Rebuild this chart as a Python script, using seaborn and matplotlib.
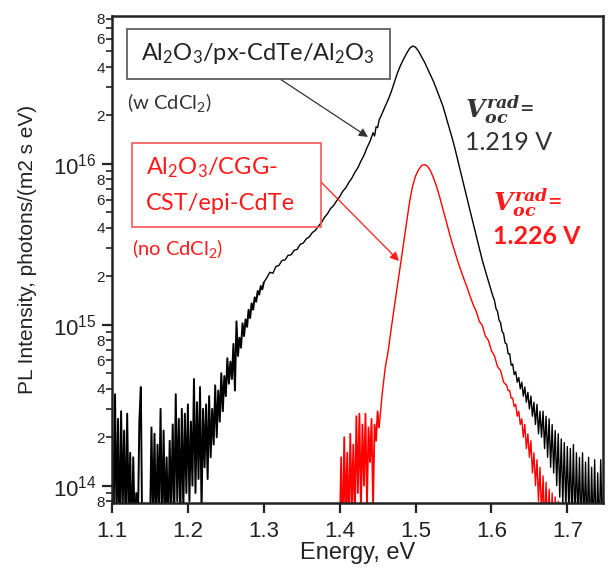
import numpy as np
import pandas as pd
import matplotlib
matplotlib.use("Agg")
import matplotlib.pyplot as plt
from matplotlib.patches import Rectangle
from matplotlib.ticker import LogLocator, FuncFormatter, FormatStrFormatter
import seaborn as sns

sns.set_style("ticks")
plt.rcParams["font.family"] = ["Liberation Sans", "DejaVu Sans"]
plt.rcParams["mathtext.fontset"] = "custom"
plt.rcParams["mathtext.it"] = "DejaVu Serif:italic:bold"
plt.rcParams["mathtext.rm"] = "Liberation Sans"

ANNOT_FONT = ["Lato", "DejaVu Sans"]
RED = "#ff1a1a"

# PL spectra, intensity in units of 1e14 photons/(m2 s eV)
black_energy = [
    1.100, 1.102, 1.104, 1.106, 1.108, 1.110, 1.112, 1.114, 1.116, 1.118,
    1.120, 1.122, 1.124, 1.126, 1.128, 1.130, 1.132, 1.134, 1.136, 1.138,
    1.140, 1.142, 1.144, 1.146, 1.148, 1.150, 1.152, 1.154, 1.156, 1.158,
    1.160, 1.162, 1.164, 1.166, 1.168, 1.170, 1.172, 1.174, 1.176, 1.178,
    1.180, 1.182, 1.184, 1.186, 1.188, 1.190, 1.192, 1.194, 1.196, 1.198,
    1.200, 1.202, 1.204, 1.206, 1.208, 1.210, 1.212, 1.214, 1.216, 1.218,
    1.220,
    1.222, 1.224, 1.226, 1.228, 1.230, 1.232, 1.234, 1.236, 1.238, 1.240,
    1.242, 1.244, 1.246, 1.248, 1.250, 1.252, 1.254, 1.256, 1.258, 1.260,
    1.262, 1.264, 1.266, 1.268, 1.270, 1.272, 1.274, 1.276, 1.278, 1.280,
    1.282, 1.284, 1.286, 1.288, 1.290, 1.292, 1.294, 1.296, 1.298, 1.300,
    1.304, 1.308, 1.312, 1.316, 1.320, 1.324, 1.328, 1.332, 1.336, 1.340,
    1.344, 1.348, 1.352, 1.356, 1.360, 1.364, 1.368, 1.372, 1.376, 1.380,
    1.384, 1.388, 1.392, 1.396, 1.400, 1.404, 1.408, 1.412, 1.416, 1.420,
    1.424, 1.428, 1.432, 1.436, 1.440, 1.444, 1.446, 1.448, 1.450,
    1.452, 1.456, 1.460, 1.464, 1.468, 1.472, 1.476, 1.480, 1.484, 1.488,
    1.492, 1.496, 1.500, 1.504, 1.508, 1.512, 1.516, 1.520, 1.524, 1.528,
    1.532, 1.536, 1.540, 1.544, 1.548, 1.552, 1.556, 1.560, 1.564, 1.568,
    1.572, 1.576, 1.580, 1.584, 1.588, 1.592, 1.596,
    1.600, 1.602, 1.604, 1.606, 1.608, 1.610, 1.612, 1.614, 1.616, 1.618,
    1.620, 1.622, 1.624, 1.626, 1.628, 1.630, 1.632, 1.634, 1.636, 1.638,
    1.640, 1.642, 1.644, 1.646, 1.648, 1.650, 1.652, 1.654, 1.656, 1.658,
    1.660, 1.662, 1.664, 1.666, 1.668, 1.670, 1.672, 1.674, 1.676, 1.678,
    1.680, 1.682, 1.684, 1.686, 1.688, 1.690, 1.692, 1.694, 1.696, 1.698,
    1.700, 1.702, 1.704, 1.706, 1.708, 1.710, 1.712, 1.714, 1.716, 1.718,
    1.720, 1.722, 1.724, 1.726, 1.728, 1.730, 1.732, 1.734, 1.736, 1.738,
    1.740, 1.742, 1.744, 1.746, 1.748,
]
black_intensity = [
    2.4, 0.5, 3.7, 0.6, 2.6, 0.4, 2.9, 0.7, 2.2, 0.5,
    2.8, 0.6, 1.6, 0.4, 1.5, 0.5, 0.9, 0.5, 2.5, 4.1,
    0.4, 0.5, 0.3, 0.45, 0.35, 0.5, 2.3, 0.6, 2.1, 0.5,
    1.8, 0.7, 3.0, 0.5, 2.2, 0.6, 1.5, 0.5, 1.9, 0.7,
    2.4, 0.6, 3.7, 0.8, 2.6, 0.6, 3.0, 0.7, 2.8, 0.9,
    3.2, 0.8, 2.5, 1.0, 4.6, 0.9, 3.3, 1.1, 4.1, 0.7,
    3.0,
    1.3, 3.2, 1.1, 3.6, 1.5, 3.0, 1.8, 4.2, 2.0, 3.9,
    2.5, 5.0, 2.9, 4.8, 3.6, 6.2, 4.3, 5.9, 4.6, 7.6,
    3.9, 10.5, 6.4, 8.3, 7.2, 10.2, 8.5, 10.8, 9.7, 12.4,
    11.0, 13.6, 12.4, 14.8, 13.9, 16.2, 15.4, 17.4, 16.6, 18.3,
    19.6, 21.2, 20.9, 23.0, 23.4, 25.1, 25.3, 27.0, 27.2, 29.0,
    29.4, 31.6, 32.2, 34.2, 35.2, 37.4, 38.6, 41.0, 43.2, 46.5,
    49.0, 52.8, 55.0, 59.0, 62.5, 67.5, 71.0, 76.5, 81.5, 88.5,
    94.5, 104, 113, 126, 138, 156, 149, 170, 168,
    187, 206, 228, 251, 281, 321, 366, 407, 446, 484,
    521, 540, 531, 501, 462, 427, 389, 355, 322, 288,
    257, 229, 197, 170, 146, 124, 104, 86.7, 72.4, 60.7,
    50.8, 42.7, 35.7, 29.9, 25.1, 21.6, 18.7,
    16.2, 15.0, 14.2, 12.6, 12.1, 10.7, 10.3, 9.1, 8.8, 7.7,
    7.6, 6.6, 6.6, 5.6, 5.7, 4.9, 5.1, 4.4, 4.7, 4.0,
    4.4, 3.6, 4.1, 3.3, 3.8, 3.0, 3.6, 2.7, 3.3, 2.4,
    3.2, 2.1, 2.9, 2.0, 2.9, 1.7, 2.7, 1.5, 2.6, 1.3,
    2.4, 1.2, 2.2, 1.0, 2.1, 0.85, 1.95, 0.75, 1.85, 0.7,
    1.75, 0.65, 1.7, 0.6, 1.8, 0.55, 1.6, 0.6, 1.5, 0.5,
    1.6, 0.55, 1.4, 0.5, 1.5, 0.45, 1.3, 0.5, 1.45, 0.45,
    1.2, 0.5, 1.45, 0.5, 1.1,
]

red_energy = [
    1.400, 1.402, 1.404, 1.406, 1.408, 1.410, 1.412, 1.414, 1.416, 1.418,
    1.420, 1.422, 1.424, 1.426, 1.428, 1.430, 1.432, 1.434, 1.436, 1.438,
    1.440, 1.442, 1.444, 1.446, 1.448, 1.450, 1.452,
    1.456, 1.460, 1.464, 1.468, 1.472, 1.476, 1.480, 1.484, 1.488, 1.492,
    1.496, 1.500, 1.504, 1.508, 1.512, 1.516, 1.520, 1.524,
    1.528, 1.532, 1.536, 1.540, 1.544, 1.548, 1.552, 1.556, 1.560, 1.564,
    1.568, 1.572, 1.576, 1.580, 1.584, 1.588, 1.592, 1.596, 1.600, 1.604,
    1.608, 1.612, 1.616,
    1.620, 1.622, 1.624, 1.626, 1.628, 1.630, 1.632, 1.634, 1.636, 1.638,
    1.640, 1.642, 1.644, 1.646, 1.648, 1.650, 1.652, 1.654, 1.656, 1.658,
    1.660, 1.662, 1.664, 1.666, 1.668, 1.670, 1.672, 1.674, 1.676, 1.678,
    1.680, 1.682, 1.684, 1.686, 1.688, 1.690, 1.692, 1.694, 1.696, 1.698,
    1.700,
]
red_intensity = [
    0.5, 1.5, 0.4, 2.0, 0.6, 1.6, 0.5, 2.1, 0.7, 1.8,
    0.6, 2.7, 0.9, 2.8, 0.7, 2.4, 1.0, 2.8, 0.75, 2.3,
    1.4, 2.6, 0.75, 2.4, 1.9, 2.9, 2.3,
    3.7, 5.4, 6.9, 9.5, 12.9, 17.4, 23.4, 31.6, 42.7, 57.5,
    72.4, 84, 92, 97.7, 99, 96.6, 90, 81,
    71.6, 61.7, 52.5, 44.7, 38.0, 32.4, 28.2, 24.5, 21.6, 19.1,
    17.0, 15.0, 13.3, 12.1, 10.5, 9.9, 8.5, 8.0, 6.9, 6.4,
    5.5, 5.2, 4.4,
    4.2, 3.9, 3.9, 3.5, 3.5, 3.1, 3.2, 2.7, 2.9, 2.4,
    2.6, 2.0, 2.4, 1.7, 2.1, 1.5, 1.9, 1.2, 1.6, 1.0,
    1.45, 0.8, 1.3, 0.65, 1.15, 0.55, 1.05, 0.5, 0.95, 0.45,
    0.9, 0.4, 0.85, 0.4, 0.8, 0.35, 0.75, 0.3, 0.7, 0.3,
    0.6,
]

x_ticks = [1.1, 1.2, 1.3, 1.4, 1.5, 1.6, 1.7]
minor_labels = [2, 4, 6, 8]

UNIT = 1e14
black_df = pd.DataFrame({"energy": black_energy,
                         "intensity": np.array(black_intensity) * UNIT})
red_df = pd.DataFrame({"energy": red_energy,
                       "intensity": np.array(red_intensity) * UNIT})

fig = plt.figure(figsize=(6.08, 5.69), dpi=100)
ax = fig.add_axes([112 / 608, 66 / 569, 491 / 608, 487 / 569])

# noisy floors drawn a bit heavier so they read as a dense band
black_floor = black_df[black_df["energy"] <= 1.30]
black_main = black_df[black_df["energy"] >= 1.30]
red_floor = red_df[red_df["energy"] <= 1.452]
red_main = red_df[red_df["energy"] >= 1.452]

sns.lineplot(data=black_floor, x="energy", y="intensity", color="black",
             lw=1.4, estimator=None, sort=False, ax=ax)
sns.lineplot(data=black_main, x="energy", y="intensity", color="black",
             lw=1.0, estimator=None, sort=False, ax=ax)
sns.lineplot(data=red_floor, x="energy", y="intensity", color="#ff0000",
             lw=1.3, estimator=None, sort=False, ax=ax)
sns.lineplot(data=red_main, x="energy", y="intensity", color="#ff0000",
             lw=1.0, estimator=None, sort=False, ax=ax)

ax.set_yscale("log")
ax.set_xlim(1.1, 1.747)
ax.set_ylim(7.8e13, 8.3e16)

ax.set_xticks(x_ticks)
ax.xaxis.set_major_formatter(FormatStrFormatter("%.1f"))

ax.yaxis.set_major_locator(LogLocator(base=10, numticks=10))
ax.yaxis.set_minor_locator(LogLocator(base=10, subs=np.arange(2, 10), numticks=20))


def minor_fmt(v, pos):
    m = int(round(v / 10 ** np.floor(np.log10(v) + 1e-9)))
    return str(m) if m in minor_labels else ""


ax.yaxis.set_minor_formatter(FuncFormatter(minor_fmt))

ax.tick_params(axis="both", which="major", direction="out", length=7,
               width=1.6, color="#222222", labelsize=16, labelcolor="#222222")
ax.tick_params(axis="x", which="major", pad=6)
ax.tick_params(axis="y", which="major", pad=4)
ax.tick_params(axis="y", which="minor", direction="out", length=4,
               width=1.2, color="#222222", labelsize=11, pad=1,
               labelcolor="#222222")
for side in ["left", "right", "top", "bottom"]:
    ax.spines[side].set_linewidth(1.8)
    ax.spines[side].set_color("#222222")

ax.set_xlabel("Energy, eV", fontsize=17, color="#222222", labelpad=0)
ax.set_ylabel("PL Intensity, photons/(m2 s eV)", fontsize=15, color="#222222")
ax.yaxis.label.set_va("center")
ax.yaxis.set_label_coords(-(112 - 28) / 491, 0.52)


def px(x, y):
    # figure pixel -> axes fraction
    return ((x - 112) / 491, (503 - y) / 487)


tr = ax.transAxes
arrow_kw = dict(arrowstyle="-|>", lw=0.9, mutation_scale=13,
                shrinkA=0, shrinkB=0)

# black sample label
x0, y1 = px(127, 79)
x1, y0 = px(390, 29)
ax.add_patch(Rectangle((x0, y1), x1 - x0, y0 - y1, transform=tr,
                       fill=False, ec="#606060", lw=1.3, zorder=5))
ax.text(*px(258, 54),
        r"Al$\mathregular{_2}$O$\mathregular{_3}$/px-CdTe/Al$\mathregular{_2}$O$\mathregular{_3}$",
        transform=tr, ha="center", va="center", fontsize=17,
        family=ANNOT_FONT, color="#222222")
ax.text(*px(127, 103), r"(w CdCl$\mathregular{_2}$)", transform=tr,
        ha="left", va="center", fontsize=14.5, family=ANNOT_FONT,
        color="#333333")
ax.annotate("", xy=px(368, 137), xytext=px(280, 79), xycoords=tr,
            textcoords=tr, arrowprops=dict(color="#333333", **arrow_kw))

# red sample label
x0, y1 = px(132, 227)
x1, y0 = px(321, 143)
ax.add_patch(Rectangle((x0, y1), x1 - x0, y0 - y1, transform=tr,
                       fill=False, ec="#ff5555", lw=1.2, zorder=5))
ax.text(*px(146, 168), r"Al$\mathregular{_2}$O$\mathregular{_3}$/CGG-",
        transform=tr, ha="left", va="center", fontsize=17,
        family=ANNOT_FONT, color=RED)
ax.text(*px(146, 203), "CST/epi-CdTe", transform=tr, ha="left",
        va="center", fontsize=17, family=ANNOT_FONT, color=RED)
ax.text(*px(132, 248), r"(no CdCl$\mathregular{_2}$)", transform=tr,
        ha="left", va="center", fontsize=14.5, family=ANNOT_FONT, color=RED)
ax.annotate("", xy=px(399, 261), xytext=px(321, 182), xycoords=tr,
            textcoords=tr, arrowprops=dict(color=RED, **arrow_kw))

# radiative Voc labels
ax.text(*px(465, 110), r"$V_{oc}^{rad}$=", transform=tr, ha="left",
        va="center", fontsize=18, family=ANNOT_FONT, color="#333333")
ax.text(*px(465, 142), "1.219 V", transform=tr, ha="left", va="center",
        fontsize=18, family=ANNOT_FONT, color="#333333")
ax.text(*px(493, 203), r"$V_{oc}^{rad}$=", transform=tr, ha="left",
        va="center", fontsize=18, family=ANNOT_FONT, color=RED)
ax.text(*px(493, 237), "1.226 V", transform=tr, ha="left", va="center",
        fontsize=18, family=ANNOT_FONT, color=RED, fontweight="bold")

fig.savefig("out.png", dpi=100)
plt.close(fig)
